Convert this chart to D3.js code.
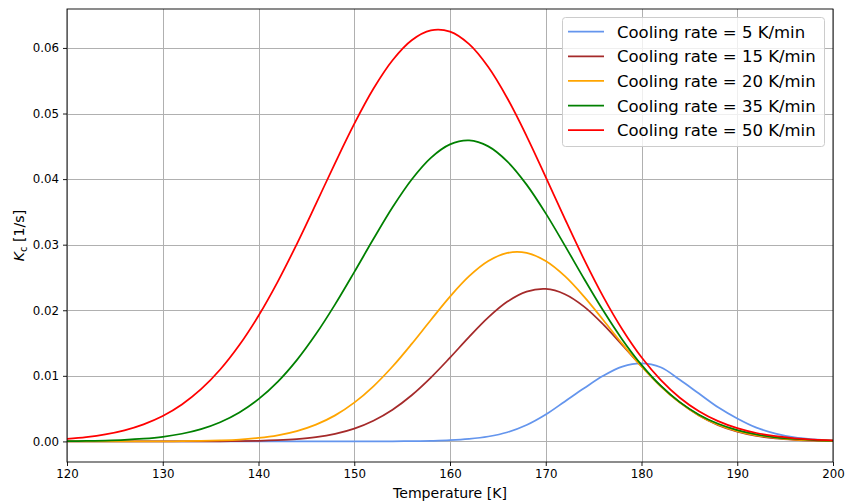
<!DOCTYPE html>
<html>
<head>
<meta charset="utf-8">
<script src="https://cdn.jsdelivr.net/npm/d3@7"></script>
<style>
  html, body { margin: 0; padding: 0; background: #fff; }
  svg { display: block; }
  text { font-family: "DejaVu Sans", sans-serif; fill: #000; }
</style>
</head>
<body>
<svg id="chart" width="847" height="504"></svg>
<script>
// ---- data ----
const temperature = [120,122,124,126,128,130,132,134,136,138,140,142,144,146,148,150,152,154,156,158,160,
                     162,164,166,168,170,172,174,176,178,180,182,184,186,188,190,192,194,196,198,200];

const rate5 = [0,0,0,0,0,0,0,0,0,0,0,0,0,0,0,0,0.00001,0.00002,0.00004,0.00009,0.00018,
               0.00038,0.00075,0.0014,0.0025,0.0041,0.0061,0.0081,0.0100,0.0114,0.0119,0.0113,0.0094,0.0073,0.0052,0.0035,0.0021,0.0012,0.0006,0.0003,0.0001];

const rate15 = [0,0,0,0,0,0.000001,0.000003,0.000007,0.000017,0.000039,0.000084,0.00018,0.00035,0.00065,0.00116,0.00196,0.00316,0.00484,0.00704,0.00973,0.01277,
                0.01594,0.01891,0.02132,0.02284,0.02325,0.02245,0.02056,0.01785,0.01469,0.01147,0.00848,0.00595,0.00396,0.00249,0.00149,0.00084,0.00045,0.00023,0.00011,0.00005];

const rate20 = [0,0,0.000001,0.000003,0.000007,0.000016,0.000034,0.000073,0.00015,0.00028,0.00053,0.00093,0.00158,0.00256,0.00397,0.00591,0.00840,0.01142,0.01487,0.01852,0.02208,
                0.02519,0.02750,0.02874,0.02874,0.02750,0.02519,0.02208,0.01852,0.01487,0.01142,0.00840,0.00591,0.00397,0.00256,0.00158,0.00093,0.00053,0.00028,0.00015,0.00007];

const rate35 = [0.00003,0.00007,0.00013,0.00023,0.00041,0.00070,0.00117,0.00188,0.00293,0.00442,0.00644,0.00908,0.01240,0.01637,0.02090,0.02582,0.03086,0.03570,0.03994,0.04324,0.04529,
                0.04589,0.04499,0.04267,0.03916,0.03477,0.02986,0.02481,0.01995,0.01552,0.01168,0.00850,0.00599,0.00408,0.00269,0.00172,0.00106,0.00063,0.00037,0.00020,0.00011];

const rate50 = [0.00040,0.00066,0.00107,0.00169,0.00260,0.00387,0.00563,0.00796,0.01096,0.01469,0.01916,0.02434,0.03009,0.03622,0.04245,0.04842,0.05377,0.05812,0.06117,0.06267,0.06248,
                0.06057,0.05708,0.05229,0.04657,0.04031,0.03393,0.02776,0.02208,0.01707,0.01283,0.00938,0.00666,0.00460,0.00309,0.00202,0.00128,0.00079,0.00047,0.00028,0.00016];

const seriesNames = ["Cooling rate = 5 K/min","Cooling rate = 15 K/min","Cooling rate = 20 K/min","Cooling rate = 35 K/min","Cooling rate = 50 K/min"];
const seriesColors = ["#6495ED","#A52A2A","#FFA500","#008000","#FF0000"];
const seriesValues = [rate5, rate15, rate20, rate35, rate50];

const xTicks = [120,130,140,150,160,170,180,190,200];
const yTicks = [0,0.01,0.02,0.03,0.04,0.05,0.06];
const xDomain = [120, 200];
const yDomain = [-0.00314, 0.06594];

// ---- layout ----
const svg = d3.select("#chart");
const m = {left: 67, right: 833, top: 9, bottom: 462};

const x = d3.scaleLinear().domain(xDomain).range([m.left, m.right]);
const y = d3.scaleLinear().domain(yDomain).range([m.bottom, m.top]);

// grid
const grid = svg.append("g");
grid.selectAll("line.gx").data(xTicks).join("line")
  .attr("x1", d => Math.round(x(d)) + 0.5).attr("x2", d => Math.round(x(d)) + 0.5)
  .attr("y1", m.top).attr("y2", m.bottom)
  .attr("stroke", "#b0b0b0").attr("stroke-width", 1);
grid.selectAll("line.gy").data(yTicks).join("line")
  .attr("y1", d => Math.round(y(d)) + 0.5).attr("y2", d => Math.round(y(d)) + 0.5)
  .attr("x1", m.left).attr("x2", m.right)
  .attr("stroke", "#b0b0b0").attr("stroke-width", 1);

// lines
svg.append("clipPath").attr("id", "clip").append("rect")
  .attr("x", m.left).attr("y", m.top).attr("width", m.right - m.left).attr("height", m.bottom - m.top);

const line = d3.line()
  .x((d, i) => x(temperature[i]))
  .y(d => y(d))
  .curve(d3.curveCatmullRom.alpha(0.5));

const lines = svg.append("g").attr("clip-path", "url(#clip)");
seriesValues.forEach((vals, k) => {
  lines.append("path")
    .attr("d", line(vals))
    .attr("fill", "none")
    .attr("stroke", seriesColors[k])
    .attr("stroke-width", 1.75)
    .attr("stroke-linejoin", "round")
    .attr("stroke-linecap", "square");
});

// axes
const fontTick = "11.8px";
const xAxis = d3.axisBottom(x).tickValues(xTicks).tickFormat(d3.format("d")).tickSize(4).tickPadding(4);
const yAxis = d3.axisLeft(y).tickValues(yTicks).tickFormat(d3.format(".2f")).tickSize(4).tickPadding(4);

const gx = svg.append("g").attr("transform", `translate(0,${m.bottom})`).call(xAxis);
const gy = svg.append("g").attr("transform", `translate(${m.left},0)`).call(yAxis);
[gx, gy].forEach(g => {
  g.select(".domain").remove();
  g.selectAll(".tick line").attr("stroke", "#000").attr("stroke-width", 0.9);
  g.selectAll(".tick text").attr("font-size", fontTick).attr("font-family", "DejaVu Sans").attr("fill", "#000");
});

// frame
svg.append("rect")
  .attr("x", m.left).attr("y", m.top)
  .attr("width", m.right - m.left).attr("height", m.bottom - m.top)
  .attr("fill", "none").attr("stroke", "#000").attr("stroke-width", 0.9);

// axis labels
svg.append("text")
  .attr("x", (m.left + m.right) / 2).attr("y", 498)
  .attr("text-anchor", "middle").attr("font-size", "14.1px")
  .text("Temperature [K]");

const yl = svg.append("text")
  .attr("transform", `translate(24,${(m.top + m.bottom) / 2}) rotate(-90)`)
  .attr("text-anchor", "middle").attr("font-size", "14.1px");
yl.append("tspan").attr("font-style", "italic").text("K");
yl.append("tspan").attr("font-size", "10px").attr("dy", "3").text("c");
yl.append("tspan").attr("dy", "-3").text(" [1/s]");

// legend
const lg = svg.append("g");
lg.append("rect")
  .attr("x", 562.5).attr("y", 17.5).attr("width", 262).attr("height", 129)
  .attr("rx", 3).attr("ry", 3)
  .attr("fill", "#fff").attr("fill-opacity", 0.8)
  .attr("stroke", "#cccccc").attr("stroke-width", 1);
seriesNames.forEach((name, k) => {
  const cy = 31.7 + k * 24.6;
  lg.append("line")
    .attr("x1", 568).attr("x2", 604).attr("y1", cy).attr("y2", cy)
    .attr("stroke", seriesColors[k]).attr("stroke-width", 1.75);
  lg.append("text")
    .attr("x", 617).attr("y", cy + 6)
    .attr("font-size", "16.5px")
    .text(name);
});
</script>
</body>
</html>
